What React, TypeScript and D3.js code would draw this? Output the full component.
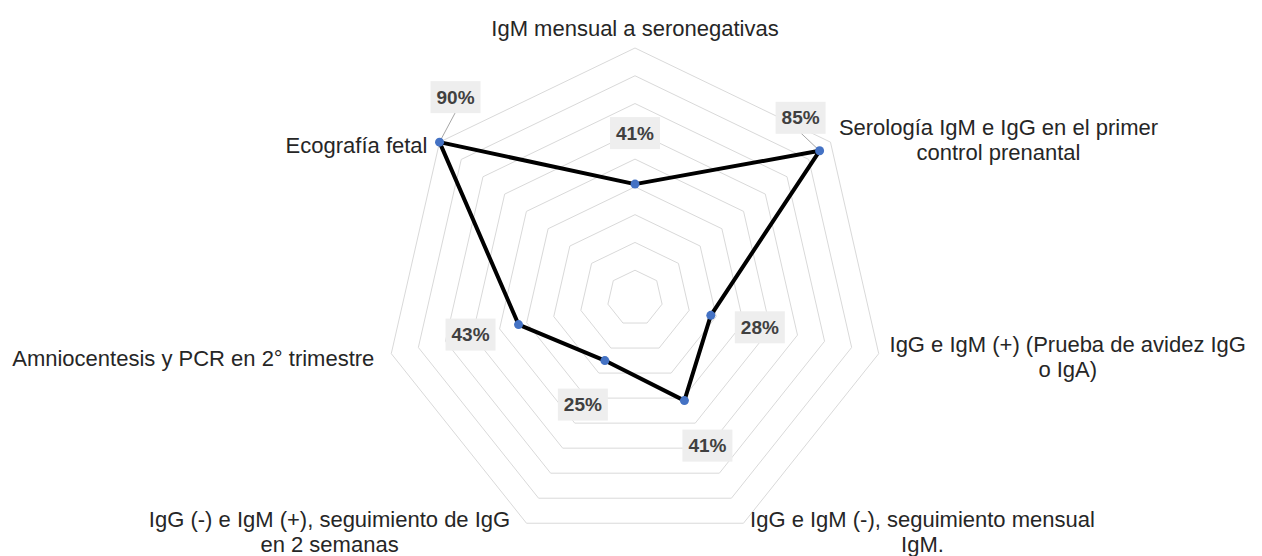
import React, { useEffect, useRef } from 'react';
import * as d3 from 'd3';

const categories = [
  ['IgM mensual a seronegativas'],
  ['Serología IgM e IgG en el primer', 'control prenantal'],
  ['IgG e IgM (+) (Prueba de avidez IgG', 'o IgA)'],
  ['IgG e IgM (-), seguimiento mensual', 'IgM.'],
  ['IgG (-) e IgM (+), seguimiento de IgG', 'en 2 semanas'],
  ['Amniocentesis y PCR en 2° trimestre'],
  ['Ecografía fetal'],
];
const values = [0.41, 0.85, 0.28, 0.41, 0.25, 0.43, 0.9];
const ringSteps = [0.1, 0.2, 0.3, 0.4, 0.5, 0.6, 0.7, 0.8, 0.9];

// layout: label block offsets from outer vertex, data label offsets from point
const catOffsets = [[0, -20], [168, -2], [189, 3], [179, 9], [-197, 9], [-198, 5], [-83, 3]];
const valOffsets = [[0, -51], [-19, -33], [49, 12], [23, 45], [-22, 44], [-48, 10], [16, -45]];
const leaders = [false, true, false, false, false, false, true];

export default function App() {
  const svgRef = useRef<SVGSVGElement>(null);

  useEffect(() => {
    if (!svgRef.current) return;
    const width = 1262;
    const height = 556;
    const cx = 635;
    const cy = 298;
    const R = 250;
    const n = categories.length;

    const svg = d3.select(svgRef.current);
    svg.selectAll('*').remove();
    svg.attr('width', width).attr('height', height).attr('viewBox', [0, 0, width, height]);

    const r = d3.scaleLinear().domain([0, 0.9]).range([0, R]);
    const angle = d3.scaleLinear().domain([0, n]).range([0, 2 * Math.PI]);
    const pos = (i: number, v: number): [number, number] => [
      cx + r(v) * Math.sin(angle(i)),
      cy - r(v) * Math.cos(angle(i)),
    ];

    // rings
    svg.append('g')
      .selectAll('path')
      .data(ringSteps)
      .enter()
      .append('path')
      .attr('fill', 'none')
      .attr('stroke', '#d9d9d9')
      .attr('stroke-width', 1)
      .attr('d', (s) => d3.line()(d3.range(n).map((i) => pos(i, s))) + 'Z');

    // series line
    const pts = values.map((v, i) => pos(i, v));
    svg.append('path')
      .attr('fill', 'none')
      .attr('stroke', '#000')
      .attr('stroke-width', 4)
      .attr('stroke-linejoin', 'round')
      .attr('d', d3.line()(pts) + 'Z');

    // leader lines
    values.forEach((v, i) => {
      if (!leaders[i]) return;
      const [x, y] = pts[i];
      const [dx, dy] = valOffsets[i];
      svg.append('line')
        .attr('x1', x).attr('y1', y)
        .attr('x2', x + dx).attr('y2', y + dy + 15)
        .attr('stroke', '#a6a6a6')
        .attr('stroke-width', 1);
    });

    svg.append('g')
      .selectAll('circle')
      .data(pts)
      .enter()
      .append('circle')
      .attr('cx', (d) => d[0])
      .attr('cy', (d) => d[1])
      .attr('r', 4.5)
      .attr('fill', '#4472c4');

    // data labels
    const dl = svg.append('g')
      .selectAll('g')
      .data(values)
      .enter()
      .append('g')
      .attr('transform', (_, i) => `translate(${pts[i][0] + valOffsets[i][0]},${pts[i][1] + valOffsets[i][1]})`);
    dl.append('rect')
      .attr('x', -25).attr('y', -16)
      .attr('width', 50).attr('height', 32)
      .attr('fill', '#eeeeee');
    dl.append('text')
      .attr('text-anchor', 'middle')
      .attr('dy', '0.35em')
      .attr('font-family', '"Liberation Sans", Arial, sans-serif')
      .attr('font-weight', 'bold')
      .attr('font-size', 19)
      .attr('fill', '#404040')
      .text((d) => d3.format('.0%')(d));

    // category labels
    const lineH = 25;
    const cl = svg.append('g')
      .selectAll('text')
      .data(categories)
      .enter()
      .append('text')
      .attr('text-anchor', 'middle')
      .attr('font-family', '"Liberation Sans", Arial, sans-serif')
      .attr('font-size', 22)
      .attr('fill', '#262626')
      .attr('transform', (_, i) => {
        const [x, y] = pos(i, 0.9);
        return `translate(${x + catOffsets[i][0]},${y + catOffsets[i][1]})`;
      });
    cl.selectAll('tspan')
      .data((d) => d.map((t, k) => ({ t, k, len: d.length })))
      .enter()
      .append('tspan')
      .attr('x', 0)
      .attr('y', (d) => (d.k - (d.len - 1) / 2) * lineH)
      .attr('dy', '0.35em')
      .text((d) => d.t);
  }, []);

  return (
    <div style={{ position: 'absolute', left: 0, top: 0, background: '#fff' }}>
      <svg ref={svgRef} style={{ display: 'block' }} />
    </div>
  );
}
